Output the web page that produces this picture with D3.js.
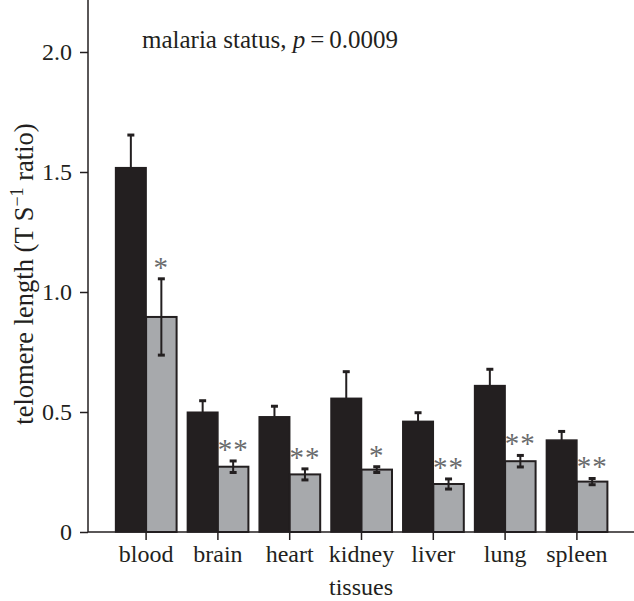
<!DOCTYPE html>
<html><head><meta charset="utf-8">
<script src="https://cdn.jsdelivr.net/npm/d3@7"></script>
<style>
body{margin:0;background:#fff;}
text{font-family:"Liberation Serif","Times New Roman",serif;fill:#231f20;}
</style></head>
<body><svg id="c" width="634" height="601"></svg>
<script>
const tissues = ["blood","brain","heart","kidney","liver","lung","spleen"];
const uninfected = [1.518,0.499,0.480,0.557,0.461,0.610,0.383];
const uninfectedErr = [0.136,0.048,0.044,0.111,0.036,0.068,0.036];
const infected = [0.896,0.272,0.240,0.260,0.200,0.295,0.210];
const infectedErr = [0.159,0.024,0.023,0.012,0.021,0.024,0.013];
const stars = ["*","**","**","*","**","**","**"];
const yTicks = [0,0.5,1.0,1.5,2.0];
const yTickLabels = ["0","0.5","1.0","1.5","2.0"];

const svg = d3.select("#c");
const ink = "#231f20";
const x = d3.scaleBand().domain(tissues).range([110.2,612.8]).paddingInner(0).paddingOuter(0);
const y = d3.scaleLinear().domain([0,2.2]).range([532,4]);
const barW = 30.5;
const cx = t => x(t) + x.bandwidth()/2;

// bars
const g = svg.append("g");
tissues.forEach((t,i)=>{
  const c = cx(t);
  g.append("line").attr("x1",c-barW/2).attr("x2",c-barW/2)
    .attr("y1",y(uninfected[i])).attr("y2",y(uninfected[i]+uninfectedErr[i]))
    .attr("stroke",ink).attr("stroke-width",2);
  g.append("line").attr("x1",c-barW/2-3.5).attr("x2",c-barW/2+3.5)
    .attr("y1",y(uninfected[i]+uninfectedErr[i])).attr("y2",y(uninfected[i]+uninfectedErr[i]))
    .attr("stroke",ink).attr("stroke-width",3);
  g.append("rect").attr("x",c-barW).attr("y",y(uninfected[i]))
    .attr("width",barW).attr("height",y(0)-y(uninfected[i]))
    .attr("fill",ink).attr("stroke",ink).attr("stroke-width",1.5);
  g.append("rect").attr("x",c).attr("y",y(infected[i]))
    .attr("width",barW).attr("height",y(0)-y(infected[i]))
    .attr("fill","#a7a9ac").attr("stroke",ink).attr("stroke-width",2);
  const ec = c+barW/2;
  const lo = infected[i]-infectedErr[i], hi = infected[i]+infectedErr[i];
  g.append("line").attr("x1",ec).attr("x2",ec).attr("y1",y(lo)).attr("y2",y(hi))
    .attr("stroke",ink).attr("stroke-width",2);
  [lo,hi].forEach(v=>g.append("line").attr("x1",ec-3.5).attr("x2",ec+3.5)
    .attr("y1",y(v)).attr("y2",y(v)).attr("stroke",ink).attr("stroke-width",3));
  svg.append("text").attr("x",ec).attr("y",y(hi)-2)
    .attr("text-anchor","middle").attr("font-size",29)
    .style("fill","#6a6b6d").style("letter-spacing","1px").text(stars[i]);
});

// y axis
const yAxis = svg.append("g").attr("transform","translate(88,0)")
  .call(d3.axisLeft(y).tickValues(yTicks).tickFormat((d,i)=>yTickLabels[i]).tickSize(8).tickPadding(8).tickSizeOuter(0));
yAxis.select(".domain").attr("stroke",ink).attr("stroke-width",1.5).attr("d","M0,0V532");
yAxis.selectAll(".tick line").attr("stroke",ink).attr("stroke-width",1.5);
yAxis.selectAll(".tick text").attr("font-size",24).attr("font-family",null).style("fill",ink);

// x axis
const xAxis = svg.append("g").attr("transform","translate(0,532)")
  .call(d3.axisBottom(x).tickSize(8).tickPadding(5).tickSizeOuter(0));
xAxis.select(".domain").attr("stroke",ink).attr("stroke-width",1.5).attr("d","M88,0H634");
xAxis.selectAll(".tick line").attr("stroke",ink).attr("stroke-width",1.5);
xAxis.selectAll(".tick text").attr("font-size",24).attr("font-family",null).style("fill",ink);

// titles
svg.append("text").attr("x",361).attr("y",595).attr("text-anchor","middle")
  .attr("font-size",24).text("tissues");
const yl = svg.append("text").attr("transform","translate(33,274) rotate(-90)")
  .attr("text-anchor","middle").attr("font-size",26.5);
yl.append("tspan").text("telomere length (T S");
yl.append("tspan").attr("dy",-10).attr("font-size",18).text("−1");
yl.append("tspan").attr("dy",10).text(" ratio)");

const ann = svg.append("text").attr("x",142).attr("y",48).attr("font-size",25);
ann.append("tspan").text("malaria status, ");
ann.append("tspan").attr("font-style","italic").text("p");
ann.append("tspan").text("\u2009=\u20090.0009");
</script></body></html>
